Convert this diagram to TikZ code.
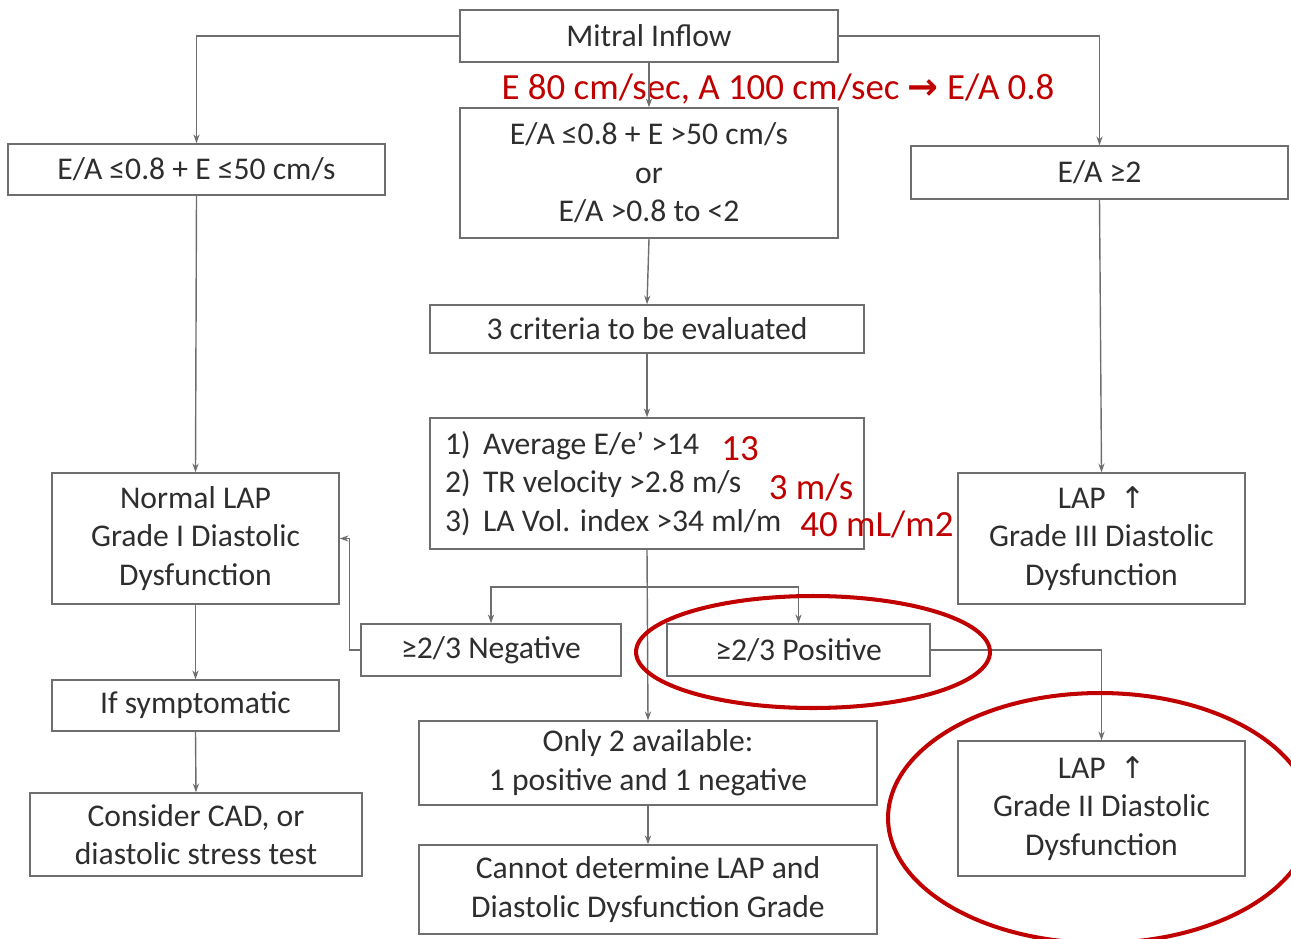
\documentclass[tikz,border=0pt]{standalone}
\usepackage{fontspec}
\setmainfont{Carlito}
\newfontfamily\arrowfont{DejaVu Sans}
\usepackage{tikz}
\usetikzlibrary{arrows.meta}

\definecolor{linegray}{HTML}{6E6E6E}
\definecolor{inkgray}{HTML}{2E2E2E}
\definecolor{markred}{HTML}{C00000}

\newcommand{\itemno}[1]{\makebox[0.76cm][l]{#1}}
\newcommand{\lapup}{LAP \ {\arrowfont\fontsize{17}{22}\selectfont ↑}}

\begin{document}
\begin{tikzpicture}[x=0.02cm, y=-0.02cm,
    box/.style={draw=linegray, line width=0.8pt, inner sep=0pt, align=center,
      text=inkgray, font=\fontsize{18}{22}\selectfont},
    note/.style={text=markred, inner sep=0pt, font=\fontsize{21}{25}\selectfont},
    link/.style={draw=linegray, line width=0.8pt, -{Stealth[length=5pt,width=3.5pt]}},
    ring/.style={draw=markred, line width=2.3pt}]
             \useasboundingbox (0,0) rectangle (1291,939);

             % top row
             \node[box, minimum width=7.56cm, minimum height=1.04cm] (mitral) at (649, 36) {Mitral Inflow};
             \node[note] (sample) at (778, 89) {E 80 cm/sec, A 100 cm/sec {\arrowfont\bfseries →} E/A 0.8};

             \node[box, minimum width=7.54cm, minimum height=1.02cm] (low) at (196.5, 169.5) {E/A ≤0.8 + E ≤50 cm/s};
             \node[box, minimum width=7.56cm, minimum height=2.6cm] (mid) at (649, 173) {E/A ≤0.8 + E >50 cm/s\\or\\E/A >0.8 to <2};
             \node[box, minimum width=7.54cm, minimum height=1.06cm] (high) at (1099.5, 172.5) {E/A ≥2};

             % criteria
             \node[box, minimum width=8.68cm, minimum height=0.96cm] (crit) at (647, 329) {3 criteria to be evaluated};
             \node[box, minimum width=8.68cm, minimum height=2.62cm, align=flush left, text width=8.08cm, inner xsep=0.3cm] (list) at (647, 483.5)
               {\itemno{1)}Average E/e’ >14\\\itemno{2)}TR velocity >2.8 m/s\\\itemno{3)}LA Vol. index >34 ml/m};
             \node[note] (ee) at (740, 449) {13};
             \node[note] (tr) at (811, 487) {3 m/s};
             \node[note] (la) at (877, 524) {40 mL/m2};

             % grades
             \node[box, minimum width=5.74cm, minimum height=2.62cm] (gradeone) at (195.5, 538.5) {Normal LAP\\Grade I Diastolic\\Dysfunction};
             \node[box, minimum width=5.74cm, minimum height=2.62cm] (gradethree) at (1101.5, 538.5) {\lapup\\Grade III Diastolic\\Dysfunction};

             \node[box, minimum width=5.2cm, minimum height=1.04cm] (neg) at (491, 650) {≥2/3 Negative};
             \node[box, minimum width=5.26cm, minimum height=1.04cm] (pos) at (798.5, 650) {≥2/3 Positive};

             \node[box, minimum width=5.74cm, minimum height=1.02cm] (sympt) at (195.5, 705.5) {If symptomatic};
             \node[box, minimum width=6.64cm, minimum height=1.66cm] (cad) at (196, 834.5) {Consider CAD, or\\diastolic stress test};
             \node[box, minimum width=9.16cm, minimum height=1.68cm] (only) at (648, 763) {Only 2 available:\\1 positive and 1 negative};
             \node[box, minimum width=9.16cm, minimum height=1.78cm] (unknown) at (648, 889.5) {Cannot determine LAP and\\Diastolic Dysfunction Grade};
             \node[box, minimum width=5.74cm, minimum height=2.7cm] (gradetwo) at (1101.5, 808.5) {\lapup\\Grade II Diastolic\\Dysfunction};

             % connectors
             \draw[link] (mitral.west) -| (low.north);
             \draw[link] (mitral.east) -| (high.north);
             \draw[link] (mitral.south) -- (mid.north);
             \draw[link] (mid.south) -- (crit.north);
             \draw[link] (crit.south) -- (list.north);
             \draw[link] (low.south) -- (gradeone.north);
             \draw[link] (high.south) -- (gradethree.north);
             \draw[link] (list.south) -- (only.north);

             \coordinate (split) at (647, 587);
             \draw[link] (split) -| (neg.north);
             \draw[link] (split) -| (pos.north);
             \draw[link] (neg.west) -- ++(-11, 0) |- (gradeone.east);
             \draw[link] (pos.east) -| (gradetwo.north);

             \draw[link] (gradeone.south) -- (sympt.north);
             \draw[link] (sympt.south) -- (cad.north);
             \draw[link] (only.south) -- (unknown.north);

             % red rings
             \draw[ring] (813, 652) ellipse [x radius=3.54cm, y radius=1.12cm];
             \draw[ring] (1100, 818) ellipse [x radius=4.24cm, y radius=2.5cm];
\end{tikzpicture}
\end{document}
